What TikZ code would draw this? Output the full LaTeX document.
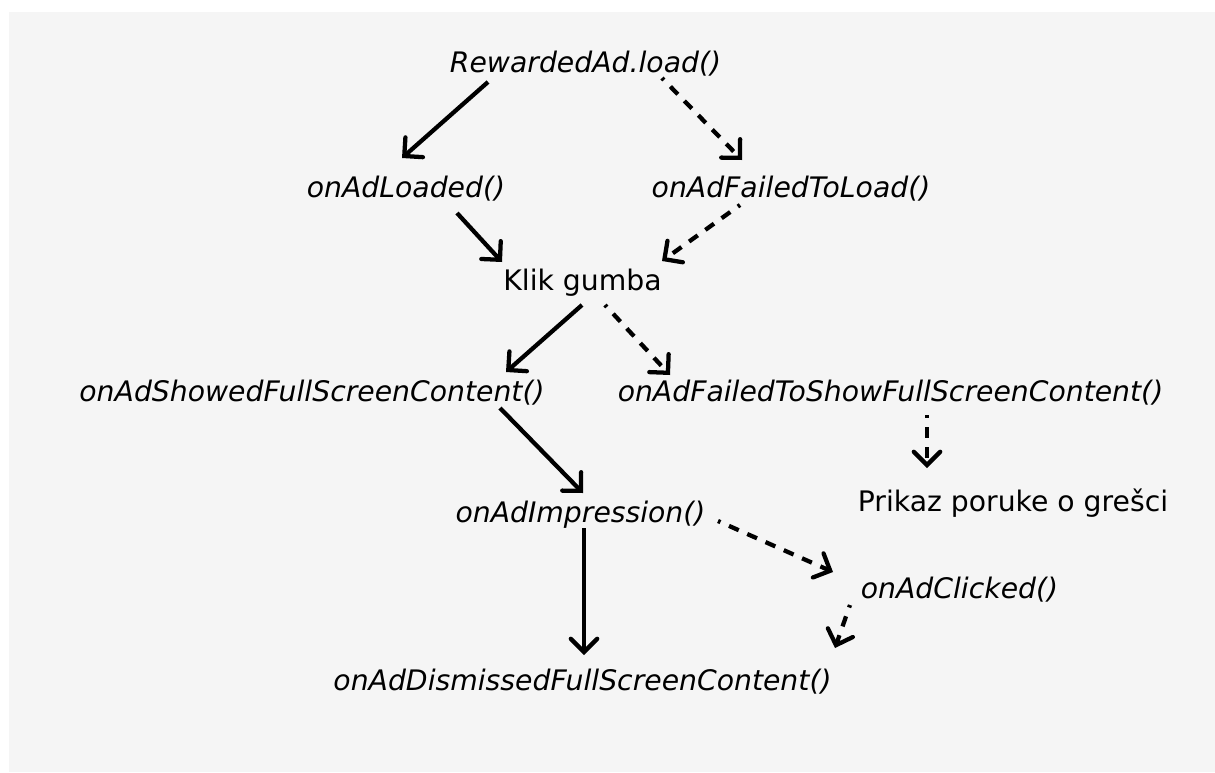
\documentclass[tikz,border=0pt]{standalone}
\usepackage{fontspec}
\setmainfont{DejaVu Sans}
\usetikzlibrary{arrows.meta}
\definecolor{bggray}{HTML}{F5F5F5}
\tikzset{
  lbl/.style={inner sep=0pt, anchor=base, font=\fontsize{21.2}{25}\selectfont},
  ilbl/.style={lbl, font=\fontsize{21.2}{25}\selectfont\itshape},
  conn/.style={line width=3.2pt, -{Straight Barb[angle=90:14pt, line cap=round]}},
  solidconn/.style={conn},
  dashconn/.style={conn, dash pattern=on 8pt off 7pt, dash phase=6pt},
}
\begin{document}
\begin{tikzpicture}[x=0.75pt, y=-0.75pt]
\useasboundingbox (0,0) rectangle (1215,772);
\fill[white] (0,0) rectangle (1215,772);
\fill[bggray] (9,12) rectangle (1215,772);

\node[ilbl] (load) at (585.5,72) {RewardedAd.load()};
\node[ilbl] (loaded) at (406,197) {onAdLoaded()};
\node[ilbl] (failload) at (791,197) {onAdFailedToLoad()};
\node[lbl] (klik) at (582.5,290) {Klik gumba};
\node[ilbl] (showed) at (312,401) {onAdShowedFullScreenContent()};
\node[ilbl] (failshow) at (890.5,401) {onAdFailedToShowFullScreenContent()};
\node[lbl] (prikaz) at (1013,511) {Prikaz poruke o grešci};
\node[ilbl] (impr) at (580.5,522) {onAdImpression()};
\node[ilbl] (clicked) at (959.5,598) {onAdClicked()};
\node[ilbl] (dism) at (582.5,690) {onAdDismissedFullScreenContent()};

% connectors: offsets measured from each node's base point
\draw[solidconn] ([shift={(-97.5,10)}]load.base) -- ([shift={(-4,-39)}]loaded.base);
\draw[dashconn] ([shift={(76.5,6)}]load.base) -- ([shift={(-49,-37)}]failload.base);
\draw[solidconn] ([shift={(51,16)}]loaded.base) -- ([shift={(-80.5,-28)}]klik.base);
\draw[dashconn] ([shift={(-51,8)}]failload.base) -- ([shift={(79.5,-29)}]klik.base);
\draw[solidconn] ([shift={(-0.5,15)}]klik.base) -- ([shift={(194,-29)}]showed.base);
\draw[dashconn] ([shift={(22.5,15)}]klik.base) -- ([shift={(-220.5,-26)}]failshow.base);
\draw[dashconn] ([shift={(36.5,14)}]failshow.base) -- ([shift={(-86,-43)}]prikaz.base);
\draw[solidconn] ([shift={(188,7)}]showed.base) -- ([shift={(2.5,-29)}]impr.base);
\draw[solidconn] ([shift={(3.5,6)}]impr.base) -- ([shift={(1.5,-35)}]dism.base);
\draw[dashconn] ([shift={(137.5,-1)}]impr.base) -- ([shift={(-126.5,-26)}]clicked.base);
\draw[dashconn] ([shift={(-109.5,7)}]clicked.base) -- ([shift={(252.5,-42)}]dism.base);
\end{tikzpicture}
\end{document}
